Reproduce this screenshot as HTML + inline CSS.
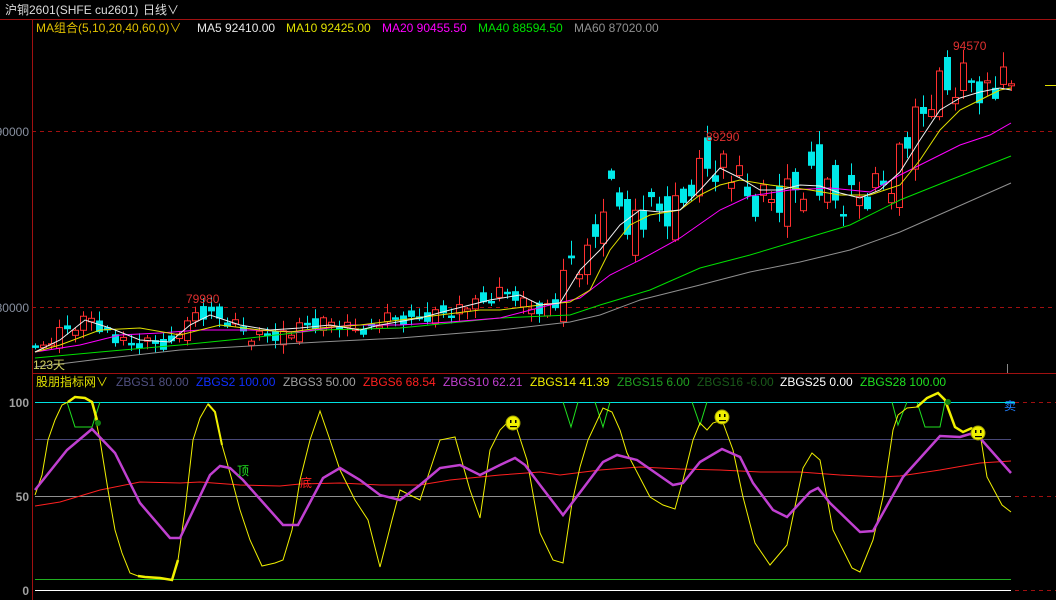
<!DOCTYPE html>
<html><head><meta charset="utf-8">
<style>
html,body{margin:0;padding:0;background:#000;width:1056px;height:600px;overflow:hidden}
svg{display:block}
text{font-family:"Liberation Sans","Noto Sans CJK SC",sans-serif;font-size:12px}
</style></head>
<body>
<svg id="s" width="1056" height="600" xmlns="http://www.w3.org/2000/svg">
<rect width="1056" height="600" fill="#000"/>
<line x1="0" y1="19.5" x2="1056" y2="19.5" stroke="#a01010"/>
<line x1="32.5" y1="19" x2="32.5" y2="600" stroke="#a01010"/>
<line x1="32" y1="373.5" x2="1056" y2="373.5" stroke="#a01010"/>
<line x1="32" y1="131.5" x2="1056" y2="131.5" stroke="#a01010" stroke-dasharray="4,4"/>
<line x1="32" y1="307.5" x2="1056" y2="307.5" stroke="#a01010" stroke-dasharray="4,4"/>
<line x1="1015" y1="402.5" x2="1056" y2="402.5" stroke="#a01010" stroke-dasharray="4,4"/>
<line x1="1015" y1="496.5" x2="1056" y2="496.5" stroke="#a01010" stroke-dasharray="4,4"/>
<line x1="1015" y1="590.5" x2="1056" y2="590.5" stroke="#a01010" stroke-dasharray="4,4"/>
<line x1="1045" y1="85.5" x2="1056" y2="85.5" stroke="#e0e000"/>
<line x1="1007.5" y1="364" x2="1007.5" y2="373" stroke="#888"/>
<g id="gg"></g>
<text x="5" y="14" fill="#ddd">沪铜2601(SHFE cu2601)</text>
<text x="143" y="14" fill="#ddd">日线∨</text>
<text x="36" y="32" fill="#e0c000">MA组合(5,10,20,40,60,0)∨</text>
<text x="197" y="32" fill="#e8e8e8">MA5 92410.00</text>
<text x="286" y="32" fill="#e0e000">MA10 92425.00</text>
<text x="382" y="32" fill="#ff00ff">MA20 90455.50</text>
<text x="478" y="32" fill="#00e000">MA40 88594.50</text>
<text x="574" y="32" fill="#909090">MA60 87020.00</text>
<text x="29" y="136" fill="#8890a0" text-anchor="end">90000</text>
<text x="29" y="312" fill="#8890a0" text-anchor="end">80000</text>
<text x="186" y="303" fill="#e03030">79980</text>
<text x="706" y="141" fill="#e03030">89290</text>
<text x="953" y="50" fill="#e03030">94570</text>
<text x="33" y="369" fill="#d0d060">123天</text>
<text x="36" y="386" fill="#e0e000">股朋指标网∨</text>
<text x="116" y="386" fill="#505080">ZBGS1 80.00</text>
<text x="196" y="386" fill="#1030ff">ZBGS2 100.00</text>
<text x="283" y="386" fill="#a0a0a0">ZBGS3 50.00</text>
<text x="363" y="386" fill="#ff2020">ZBGS6 68.54</text>
<text x="443" y="386" fill="#c040d0">ZBGS10 62.21</text>
<text x="530" y="386" fill="#f0f000">ZBGS14 41.39</text>
<text x="617" y="386" fill="#20a020">ZBGS15 6.00</text>
<text x="697" y="386" fill="#1a5a1a">ZBGS16 -6.00</text>
<text x="780" y="386" fill="#ffffff">ZBGS25 0.00</text>
<text x="860" y="386" fill="#20e020">ZBGS28 100.00</text>
<text x="29" y="407" fill="#a0a0a0" text-anchor="end" style="font-weight:bold">100</text>
<text x="29" y="501" fill="#a0a0a0" text-anchor="end" style="font-weight:bold">50</text>
<text x="29" y="595" fill="#a0a0a0" text-anchor="end" style="font-weight:bold">0</text>
<text x="1004" y="410" fill="#2080ff">卖</text>
<text x="237" y="475" fill="#20e020" font-size="11">顶</text>
<text x="300" y="487" fill="#ff2020" font-size="11">底</text>
</svg>
<script>
(function(){
var G=document.getElementById('gg'),NS='http://www.w3.org/2000/svg';
function el(t,a){var e=document.createElementNS(NS,t);for(var k in a)e.setAttribute(k,a[k]);G.appendChild(e);return e;}
function pl(pts,c,w){var s='';for(var i=0;i<pts.length;i+=2)s+=pts[i]+','+pts[i+1]+' ';el('polyline',{points:s,fill:'none',stroke:c,'stroke-width':w||1});}
el('line',{x1:35,y1:402.5,x2:1015,y2:402.5,stroke:'#00e0e0'});
el('line',{x1:35,y1:439.5,x2:1011,y2:439.5,stroke:'#484878'});
el('line',{x1:35,y1:496.5,x2:1011,y2:496.5,stroke:'#909090'});
el('line',{x1:35,y1:579.5,x2:1011,y2:579.5,stroke:'#20b020'});
el('line',{x1:35,y1:590.5,x2:1011,y2:590.5,stroke:'#ffffff'});
function interp(k,x){for(var i=0;i+3<k.length;i+=2){if(x<=k[i+2]){var t=(x-k[i])/(k[i+2]-k[i]);return k[i+1]+t*(k[i+3]-k[i+1]);}}return k[k.length-1];}
var ck=[35,352,45,345,60,332,75,325,90,316,100,326,115,340,125,345,150,343,175,345,185,314,200,316,215,318,235,325,250,336,270,334,290,333,310,325,330,322,350,327,370,328,390,318,410,322,430,315,460,307,480,305,500,292,515,295,530,308,550,306,560,304,570,262,590,262,605,185,615,195,625,212,640,222,660,214,680,212,690,180,705,165,720,158,735,180,750,205,770,200,790,190,810,172,830,205,850,202,870,190,890,175,900,150,915,128,925,115,935,85,945,92,960,75,975,78,990,92,1000,88,1011,88];
var prev=352;
for(var i=0;i<123;i++){
 var x=35+i*8;
 var amp=x<560?2.2:7;
 var c=interp(ck,x)+((i*37)%11-5)*amp*0.6;
 var o=prev+((i*53)%7-3)*amp;
 if(i%5==2){o=c+(c-o)*0.4;}
 var bt=Math.min(o,c),bb=Math.max(o,c); if(bb-bt<2)bb=bt+2;
 var up=c<o;
 var hi=bt-2-((i*29)%9)*(x<560?1:1.6), lo=bb+2+((i*17)%8)*(x<560?1:1.6);
 var col=up?'#ff3030':'#00e8e8';
 el('line',{x1:x+0.5,y1:hi,x2:x+0.5,y2:lo,stroke:col});
 if(up)el('rect',{x:x-2.5,y:bt,width:6,height:bb-bt,fill:'#000',stroke:col});
 else el('rect',{x:x-3,y:bt,width:7,height:bb-bt+0.5,fill:col});
 prev=c;
}
pl([35,367,100,359,180,350,320,342,400,338,500,330,570,322,600,315,640,300,700,285,750,272,800,262,850,250,900,232,950,210,1011,183],'#909090');
pl([35,358,100,352,180,345,250,338,320,330,400,328,500,318,570,315,600,305,650,290,700,268,750,255,800,240,850,225,900,200,950,180,1011,156],'#00e000');
pl([35,352,80,345,120,335,160,333,200,330,250,330,300,332,350,325,400,325,450,322,500,318,550,305,580,298,610,275,640,260,680,238,720,210,750,196,790,190,830,188,870,192,900,175,930,160,960,145,990,135,1011,123],'#ff00ff');
pl([35,352,60,345,100,330,140,328,180,335,220,325,260,330,290,332,320,328,360,325,400,320,440,315,480,310,500,310,540,305,570,302,590,290,610,250,630,225,650,215,680,210,700,195,720,185,740,180,770,185,810,190,840,195,870,195,900,185,920,160,940,130,960,110,980,100,1000,90,1011,88],'#e0e000');
pl([35,352,60,340,85,320,110,328,140,340,170,342,190,325,210,315,240,325,270,330,300,328,330,325,360,330,380,325,420,318,450,310,490,300,520,295,540,305,560,303,580,270,600,250,620,225,640,210,660,212,680,210,700,190,720,168,740,178,760,190,780,190,800,185,820,186,840,193,860,198,880,190,900,172,920,140,940,110,960,98,980,92,1000,88,1011,90],'#f0f0f0');
pl([35,506,60,502,100,490,140,482,180,483,200,482,240,485,280,486,300,484,340,483,380,485,420,485,450,480,500,475,540,472,560,475,600,470,640,467,680,469,720,470,760,472,800,472,840,475,880,477,900,476,940,470,980,463,1011,461],'#ff2020');
var gv=[[67,402,75,427,92,427,100,402],[563,402,571,427,578,402],[595,402,603,427,610,402],[692,402,700,425,707,402],[892,402,898,425,907,402],[917,402,925,427,940,427,945,402]];
gv.forEach(function(p){pl(p,'#20e020');});
pl([35,495,42,475,48,440,55,420,62,405,68,402,75,397,85,398,92,402,100,440,108,490,115,530,122,553,130,573,138,576,145,577,160,578,172,580,178,560,185,510,193,440,200,418,208,404,215,412,222,445,232,480,240,510,250,540,262,566,275,563,283,560,292,530,300,480,310,440,320,411,330,440,340,470,355,500,368,520,380,567,392,520,400,490,420,500,440,440,455,437,470,490,480,518,490,450,500,430,510,420,515,423,527,460,540,533,553,560,563,563,572,503,580,467,588,440,603,408,612,412,620,430,627,453,650,497,663,505,675,509,683,480,693,440,700,423,707,430,713,423,722,420,733,450,743,497,755,543,770,565,787,545,803,468,812,453,820,460,833,530,852,568,860,572,873,540,883,497,893,430,898,415,907,408,917,407,927,398,938,393,945,400,955,427,963,432,972,428,980,433,987,477,1002,505,1011,512],'#f0f000');
pl([68,402,75,397,85,398,92,402,97,420],'#f0f000',2.5);
pl([138,576,145,577,160,578,172,580,178,560],'#f0f000',2.5);
pl([208,404,215,412,222,445],'#f0f000',2);
pl([917,407,927,398,938,393,945,400,955,427,963,432,972,428],'#f0f000',2.5);
pl([35,490,67,450,92,429,115,453,140,503,170,538,180,538,210,475,220,466,230,468,243,480,267,507,283,525,298,525,323,478,340,468,360,480,380,495,400,500,420,485,440,468,460,465,480,475,500,465,515,458,525,465,540,485,563,515,603,462,617,455,637,460,673,485,683,483,700,462,722,449,740,457,753,483,773,510,787,517,810,492,818,488,830,503,860,532,873,531,903,477,940,436,960,437,970,434,980,438,1011,473],'#c040d0',2.5);
el('circle',{cx:98,cy:423,r:3,fill:'#108010'});
el('circle',{cx:948,cy:402,r:3,fill:'#108010'});
[[513,423],[722,417],[978,433]].forEach(function(p){
 el('circle',{cx:p[0],cy:p[1],r:7,fill:'#f0f000',stroke:'#a0a000'});
 el('rect',{x:p[0]-3,y:p[1]-3,width:1.5,height:3,fill:'#000'});
 el('rect',{x:p[0]+2,y:p[1]-3,width:1.5,height:3,fill:'#000'});
 el('rect',{x:p[0]-3,y:p[1]+3,width:7,height:1.2,fill:'#000'});
});
})();
</script>
</body></html>
